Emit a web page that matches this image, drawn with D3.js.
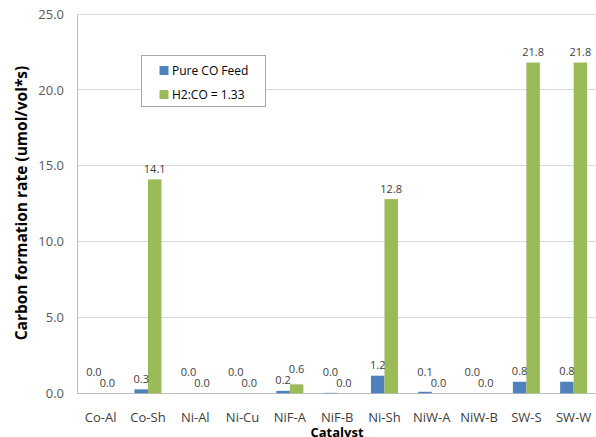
<!DOCTYPE html>
<html><head><meta charset="utf-8">
<script src="https://cdn.jsdelivr.net/npm/d3@7"></script>
<style>
html,body{margin:0;padding:0;background:#fff;}
svg{display:block;font-family:"Open Sans",sans-serif;}
</style></head>
<body><svg id="c" width="596" height="437"></svg>
<script>
const categories = ["Co-Al","Co-Sh","Ni-Al","Ni-Cu","NiF-A","NiF-B","Ni-Sh","NiW-A","NiW-B","SW-S","SW-W"];
const seriesNames = ["Pure CO Feed","H2:CO = 1.33"];
const pureCO = [0.0,0.26,0.0,0.0,0.16,0.03,1.16,0.1,0.0,0.76,0.76];
const h2co = [0.0,14.1,0.0,0.0,0.59,0.0,12.8,0.0,0.0,21.8,21.8];
const yTicks = [0,5,10,15,20,25];
const colors = ["#4F81BD","#9BBB59"];

const svg = d3.select("#c");
const L = 77, R = 597.3, T = 14, B = 393.3;
const x = d3.scaleBand().domain(categories).range([L, R]).padding(0);
const y = d3.scaleLinear().domain([0,25]).range([B, T]);
const bw = 13.5;
const xs = d3.scaleBand().domain(seriesNames).range([-bw, bw]);

// gridlines
svg.append("g").selectAll("line").data(yTicks.filter(d=>d>0)).join("line")
  .attr("x1", L).attr("x2", 596).attr("y1", d=>y(d)).attr("y2", d=>y(d))
  .attr("stroke","#d9d9d9").attr("stroke-width",1).attr("shape-rendering","crispEdges");

// y axis
const yAxis = d3.axisLeft(y).tickValues(yTicks).tickFormat(d3.format(".1f")).tickSize(0).tickPadding(13);
const ga = svg.append("g").attr("transform",`translate(${L},0)`).call(yAxis);
ga.select(".domain").attr("stroke","#bfbfbf").attr("shape-rendering","crispEdges");
ga.selectAll("text").attr("font-size",13).attr("fill","#595959").attr("font-family","Open Sans");

// x axis
const xAxis = d3.axisBottom(x).tickSize(0).tickPadding(19);
const gx = svg.append("g").attr("transform",`translate(0,${B})`).call(xAxis);
gx.select(".domain").attr("stroke","#bfbfbf").attr("shape-rendering","crispEdges").attr("d",`M${L},0.5H596`);
gx.selectAll("text").attr("font-size",13).attr("fill","#404040").attr("font-family","Open Sans");

const series = [pureCO, h2co];
// bars
series.forEach((vals, si) => {
  svg.append("g").selectAll("rect").data(vals).join("rect")
    .attr("x", (d,i)=> x(categories[i]) + x.bandwidth()/2 + xs(seriesNames[si]))
    .attr("width", xs.bandwidth())
    .attr("y", d=>y(d))
    .attr("height", d=>B - y(d))
    .attr("fill", colors[si]);
});

// data labels with simple collision avoidance
const fmt = d3.format(".1f");
const off = 6.5;
const labels = [];
categories.forEach((c,i)=>{
  const b = pureCO[i], g = h2co[i];
  let yb = y(b) - off, yg = y(g) - off;
  if (Math.abs(yb - yg) < 11) {
    if (b >= g) yb = yg - 11; else yg = yb - 11;
  }
  labels.push({v:b, si:0, i, yy:yb});
  labels.push({v:g, si:1, i, yy:yg});
});
svg.append("g").selectAll("text").data(labels).join("text")
  .attr("x", d=> x(categories[d.i]) + x.bandwidth()/2 + xs(seriesNames[d.si]) + xs.bandwidth()/2)
  .attr("y", d=>d.yy)
  .attr("text-anchor","middle")
  .attr("font-size",11).attr("fill","#404040")
  .text(d=>fmt(d.v));

// axis titles
svg.append("text").attr("transform",`translate(27,203) rotate(-90)`)
  .attr("text-anchor","middle").attr("font-size",15.5).attr("font-weight","bold").attr("fill","#000")
  .text("Carbon formation rate (umol/vol*s)");
svg.append("text").attr("x", 337).attr("y", 437).attr("text-anchor","middle")
  .attr("font-size",13).attr("font-weight","bold").attr("fill","#000").text("Catalyst");

// legend
const lg = svg.append("g");
lg.append("rect").attr("x",141.5).attr("y",55.5).attr("width",124).attr("height",51)
  .attr("fill","#fff").attr("stroke","#a6a6a6");
seriesNames.forEach((s,i)=>{
  const cy = 70.5 + i*24;
  lg.append("rect").attr("x",159.5).attr("y",cy-4.5).attr("width",9).attr("height",9).attr("fill",colors[i]);
  lg.append("text").attr("x",172).attr("y",cy+4.5).attr("font-size",12).attr("fill","#000").text(s);
});
</script></body></html>
